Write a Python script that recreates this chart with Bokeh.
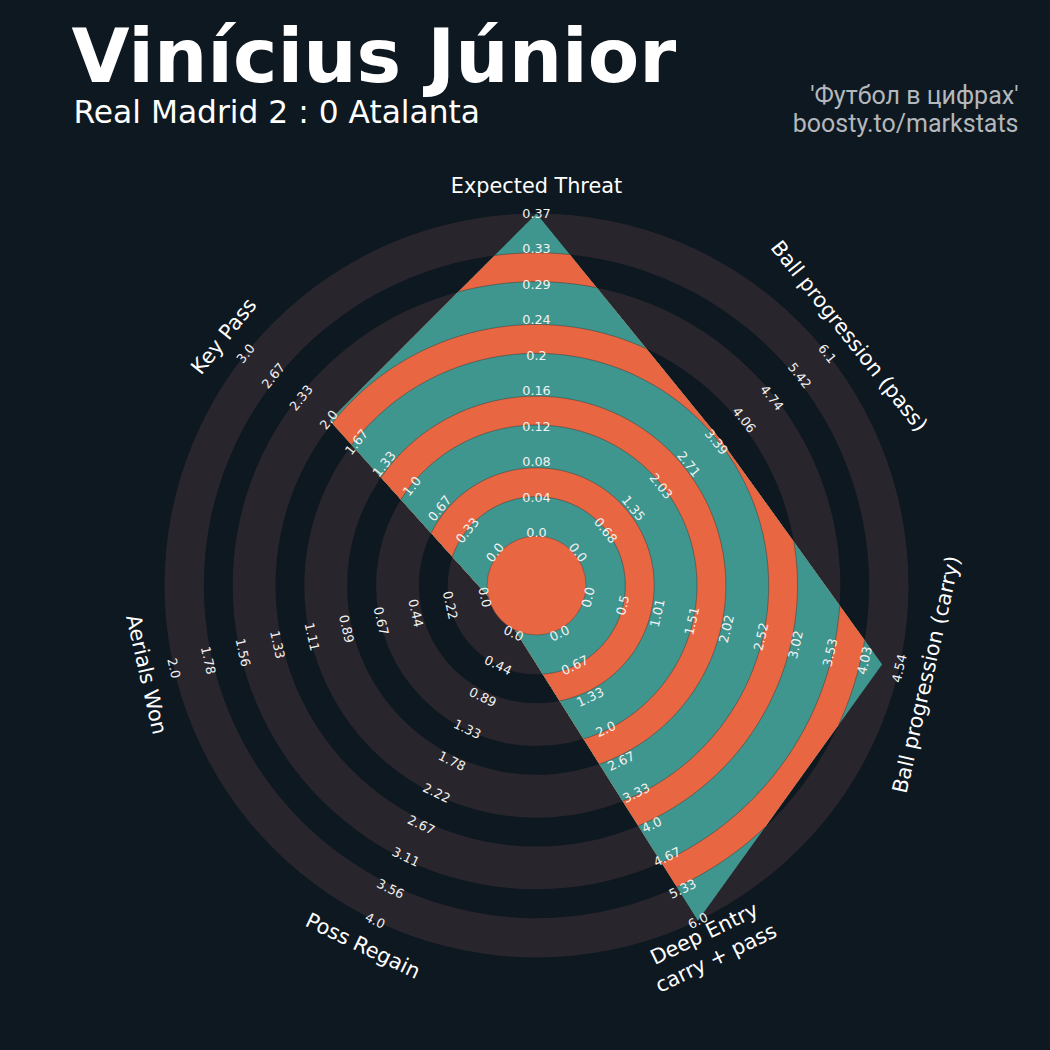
import numpy as np
from bokeh.plotting import figure
from bokeh.models import Range1d
from bokeh.core.properties import value
from bokeh.embed import file_html
from bokeh.resources import INLINE

# ---------------- data ----------------
params = ["Expected Threat", "Ball progression (pass)", "Ball progression (carry)",
          "Deep Entry\ncarry + pass", "Poss Regain", "Aerials Won", "Key Pass"]
low = [0, 0, 0, 0, 0, 0, 0]
high = [0.367, 6.096, 4.536, 6.0, 4.0, 2.0, 3.0]
values = [0.367, 3.5, 4.29, 6.0, 0.0, 0.0, 2.0]
title = "Vinícius Júnior"
subtitle = "Real Madrid 2 : 0 Atalanta"
credits = ["'Футбол в цифрах'", "boosty.to/markstats"]

# ---------------- style ----------------
BG = "#0e1820"
RING = "#28252c"
ORANGE = "#e86742"
TEAL = "#3e968f"
CX, CY = 536, 585          # centre of the radar in page pixels
C_R, MAX_R = 49.5, 372.0   # centre circle radius, outer radius
PAD = 3.5                  # extra thickness of the rings
LAB_R0, LAB_R1 = 53.0, 372.0
PARAM_R = 400.0
W = H = 1034
BASE_FIX = 0.37            # alphabetic baseline correction (em)

p = figure(width=W, height=H, x_range=Range1d(-CX, W - CX),
           y_range=Range1d(CY - H, CY), output_backend="svg",
           toolbar_location=None, min_border=0, x_axis_type=None, y_axis_type=None)
p.grid.visible = False
p.background_fill_color = BG
p.border_fill_color = BG
p.outline_line_color = None

# ring geometry
edges = np.linspace(C_R, MAX_R, 10)
gray = []
for k in range(0, 10, 2):
    lo_r = edges[k] - (PAD if k > 0 else 0)
    hi_r = edges[k + 1] + PAD if k + 1 < 9 else MAX_R
    gray.append((lo_r, hi_r))

for lo_r, hi_r in gray:
    p.annulus(x=0, y=0, inner_radius=lo_r, outer_radius=hi_r,
              fill_color=RING, line_color=None)

# polygon vertices
n = len(params)
ang = np.deg2rad(90 - np.arange(n) * 360.0 / n)
lo_a, hi_a, va = np.array(low, float), np.array(high, float), np.array(values, float)
rv = C_R + (va - lo_a) / (hi_a - lo_a) * (MAX_R - C_R)
vx, vy = rv * np.cos(ang), rv * np.sin(ang)

SAMPLES = 300
thetas, radii = [], []
for i in range(n):
    j = (i + 1) % n
    ex, ey = vx[j] - vx[i], vy[j] - vy[i]
    ts = np.linspace(ang[i], ang[i] - 2 * np.pi / n, SAMPLES, endpoint=False)
    dx, dy = np.cos(ts), np.sin(ts)
    r = (vx[i] * ey - vy[i] * ex) / (dx * ey - dy * ex)
    thetas.append(ts)
    radii.append(r)
thetas = np.concatenate(thetas)
radii = np.concatenate(radii)


def clipped(b):
    r = np.minimum(radii, b)
    return list(r * np.cos(thetas)), list(r * np.sin(thetas))


for lo_r, hi_r in reversed(gray):
    xs, ys = clipped(hi_r)
    p.patch(xs, ys, fill_color=TEAL, line_color=None)
    if lo_r > C_R:
        xs, ys = clipped(lo_r)
        p.patch(xs, ys, fill_color=ORANGE, line_color=None)

# thin boundary arcs inside the polygon
seg_x, seg_y = [], []
for lo_r, hi_r in gray:
    for b in (lo_r, hi_r):
        if b <= C_R or b >= MAX_R:
            continue
        inside = radii > b
        cur_x, cur_y = [], []
        for t, ok in zip(np.append(thetas, thetas[0] - 2 * np.pi), np.append(inside, inside[0])):
            if ok:
                cur_x.append(b * np.cos(t)); cur_y.append(b * np.sin(t))
            elif cur_x:
                seg_x.append(cur_x); seg_y.append(cur_y); cur_x, cur_y = [], []
        if cur_x:
            seg_x.append(cur_x); seg_y.append(cur_y)
p.multi_line(xs=seg_x, ys=seg_y, line_color="#333333", line_alpha=0.6, line_width=0.8)

# centre circle
p.circle(x=[0], y=[0], radius=C_R, fill_color=ORANGE, line_color="#444444",
         line_alpha=0.6, line_width=0.8)


def rot_for(a_deg):
    r = a_deg - 90
    while r <= -90:
        r += 180
    while r > 90:
        r -= 180
    return np.deg2rad(r)


# range labels
lab_r = np.linspace(LAB_R0, LAB_R1, 10)
lx, ly, lt, la = [], [], [], []
for i in range(n):
    a = ang[i]
    rot = rot_for(np.rad2deg(a))
    for k, v in enumerate(np.linspace(low[i], high[i], 10)):
        lx.append(lab_r[k] * np.cos(a)); ly.append(lab_r[k] * np.sin(a))
        lt.append(str(round(float(v), 2))); la.append(rot)
p.text(x=lx, y=ly, text=lt, angle=la, text_font=value("DejaVu Sans"),
       text_font_size="12.8px", text_color="#f2f2f2", text_align="center",
       text_baseline="middle")

# parameter labels
px_, py_, pt, pa = [], [], [], []
for i in range(n):
    a = ang[i]
    rot = rot_for(np.rad2deg(a))
    lines = params[i].split("\n")
    down = np.array([np.sin(rot), -np.cos(rot)])
    c = np.array([PARAM_R * np.cos(a), PARAM_R * np.sin(a)])
    for j, line in enumerate(lines):
        off = (j - (len(lines) - 1) / 2) * 27
        pos = c + off * down
        px_.append(pos[0]); py_.append(pos[1]); pt.append(line); pa.append(rot)
p.text(x=px_, y=py_, text=pt, angle=pa, text_font=value("DejaVu Sans"),
       text_font_size="20.8px", text_color="white", text_align="center",
       text_baseline="middle")


# titles (baseline positions in page pixels converted to data)
def to_data(X, Y, size):
    return X - CX, CY - (Y - BASE_FIX * size)


tx, ty = to_data(71, 83, 75)
p.text(x=[tx], y=[ty], text=[title], text_font=value("DejaVu Sans"),
       text_font_style="bold", text_font_size="75px", text_color="white",
       text_align="left", text_baseline="alphabetic")
sx, sy = to_data(73, 123, 31.3)
p.text(x=[sx], y=[sy], text=[subtitle], text_font=value("DejaVu Sans"),
       text_font_size="31.3px", text_color="white", text_align="left",
       text_baseline="alphabetic")
cx1, cy1 = to_data(1018, 104, 25)
cx2, cy2 = to_data(1018, 132, 25)
p.text(x=[cx1, cx2], y=[cy1, cy2], text=credits, text_font=value("Roboto"),
       text_font_size="25px", text_color="#b4b7bb", text_align="right",
       text_baseline="alphabetic")

html = file_html(p, INLINE)
html = html.replace("<head>", "<head><style>html,body{background:%s;}</style>" % BG, 1)
open("out.html", "w").write(html)
